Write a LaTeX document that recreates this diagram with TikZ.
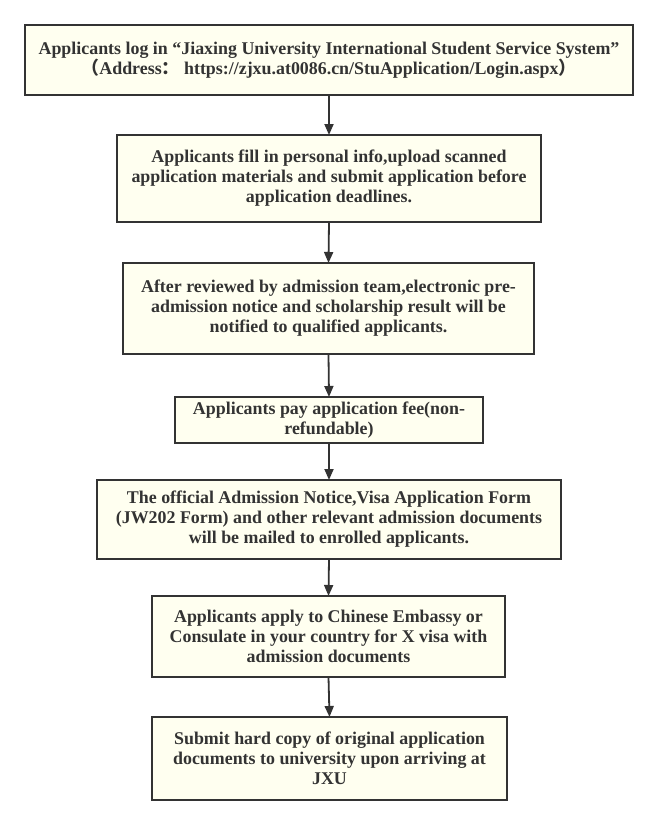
\documentclass[tikz,border=0pt]{standalone}
\usepackage{fontspec}
\setmainfont{Liberation Serif}
\newfontfamily\cjk{Noto Sans CJK SC}
\usetikzlibrary{arrows.meta}
\definecolor{boxfill}{HTML}{FFFFF0}
\definecolor{ink}{HTML}{333333}
\tikzset{
  flowbox/.style={draw=ink, line width=2pt, fill=boxfill, inner sep=0pt, outer sep=0pt,
    align=center, text=ink, font=\fontsize{17.9}{20}\selectfont\bfseries},
  flowarrow/.style={draw=ink, line width=1.8pt, -{Triangle[length=11pt,width=9pt]}}
}
\begin{document}
\begin{tikzpicture}[x=1pt,y=1pt]
\useasboundingbox (0,0) rectangle (658,-825);
\node[flowbox, minimum width=608pt, minimum height=70pt] (b1) at (329,-60)
 {Applicants log in “Jiaxing University International Student Service System”\\
 {\cjk （}Address{\cjk ：} https://zjxu.at0086.cn/StuApplication/Login.aspx{\cjk ）}};
\node[flowbox, minimum width=424pt, minimum height=87pt] (b2) at (329,-178.5)
 {Applicants fill in personal info,upload scanned\\application materials and submit application before\\application deadlines.};
\node[flowbox, minimum width=411pt, minimum height=91pt] (b3) at (328.5,-308.5)
 {After reviewed by admission team,electronic pre-\\admission notice and scholarship result will be\\notified to qualified applicants.};
\node[flowbox, minimum width=308pt, minimum height=46pt] (b4) at (329,-420)
 {Applicants pay application fee(non-\\refundable)};
\node[flowbox, minimum width=464pt, minimum height=79pt] (b5) at (329,-519.5)
 {The official Admission Notice,Visa Application Form\\(JW202 Form) and other relevant admission documents\\will be mailed to enrolled applicants.};
\node[flowbox, minimum width=353pt, minimum height=81pt] (b6) at (328.5,-636.5)
 {Applicants apply to Chinese Embassy or\\Consulate in your country for X visa with\\admission documents};
\node[flowbox, minimum width=355pt, minimum height=83pt] (b7) at (329.5,-758.5)
 {Submit hard copy of original application\\documents to university upon arriving at\\JXU};
\foreach \a/\b in {b1/b2,b2/b3,b3/b4,b4/b5,b5/b6,b6/b7}
  \draw[flowarrow] (\a.south) -- (\b.north);
\end{tikzpicture}
\end{document}
